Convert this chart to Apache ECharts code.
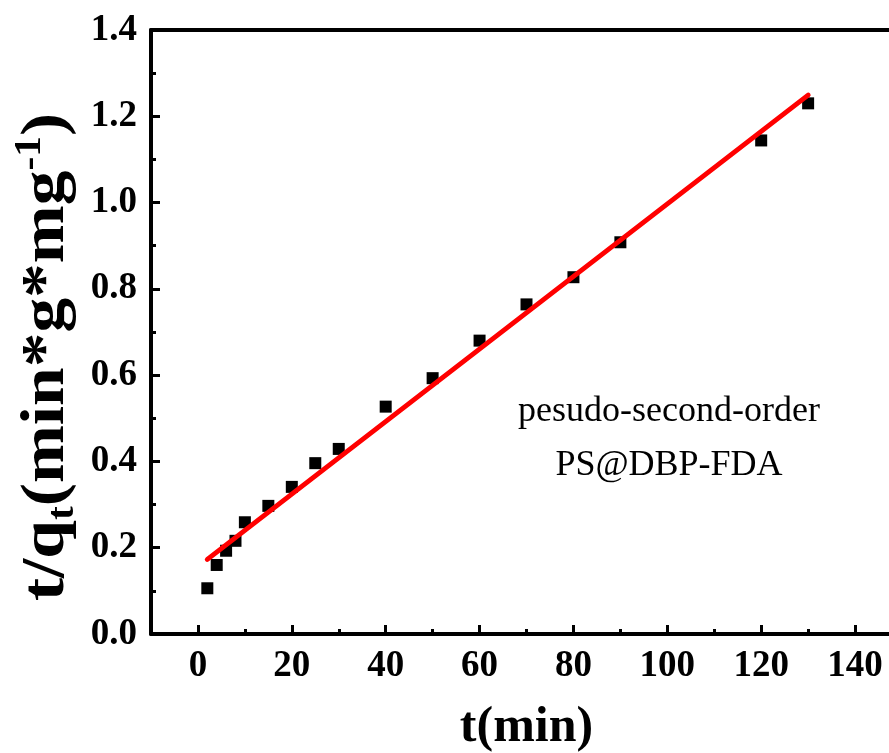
<!DOCTYPE html>
<html>
<head>
<meta charset="utf-8">
<script src="https://cdn.jsdelivr.net/npm/echarts@6/dist/echarts.min.js"></script>
<style>html,body{margin:0;padding:0;background:#fff}#c{width:889px;height:753px}</style>
</head>
<body>
<div id="c"></div>
<script>
const timeMin = [2, 4, 6, 8, 10, 15, 20, 25, 30, 40, 50, 60, 70, 80, 90, 120, 130];
const tOverQt = [0.106, 0.160, 0.193, 0.216, 0.259, 0.297, 0.341, 0.396, 0.429, 0.527, 0.593, 0.680, 0.764, 0.827, 0.908, 1.144, 1.230];
const fitT = [2, 130];
const fitY = [0.173, 1.249];
const xTicks = [0, 20, 40, 60, 80, 100, 120, 140];
const xMinorTicks = [-10, 10, 30, 50, 70, 90, 110, 130, 150];
const yTicks = [0.0, 0.2, 0.4, 0.6, 0.8, 1.0, 1.2, 1.4];
const annotation = ['pesudo-second-order', 'PS@DBP-FDA'];
const xTitle = 't(min)';
const yTitle = '{a|t/q}{s|t}{a|(min*g*mg}{p|-1}{a|)}';

const serif = 'Liberation Serif, Times New Roman, serif';
const chart = echarts.init(document.getElementById('c'));
const scatterData = timeMin.map((t, i) => [t, tOverQt[i]]);
const fitData = fitT.map((t, i) => [t, fitY[i]]);
const blackLine = { show: true, onZero: false, lineStyle: { color: '#000', width: 4 } };

chart.setOption({
  animation: false,
  backgroundColor: '#fff',
  grid: { left: 151, right: -13, top: 30, bottom: 119, containLabel: false, outerBoundsMode: 'none' },
  xAxis: [{
    type: 'value', min: -10, max: 150, interval: 10,
    axisLine: blackLine,
    axisTick: { show: true, inside: true, length: 9, customValues: xTicks, lineStyle: { color: '#000', width: 3 } },
    splitLine: { show: false },
    axisLabel: {
      customValues: xTicks,
      color: '#000', fontFamily: serif, fontWeight: 'bold', fontSize: 37, margin: 14
    },
    name: xTitle, nameLocation: 'middle', nameGap: 69,
    nameTextStyle: { color: '#000', fontFamily: serif, fontWeight: 'bold', fontSize: 50 }
  }, {
    type: 'value', position: 'bottom', min: -10, max: 150, interval: 10,
    axisLine: { show: false },
    axisTick: { show: true, inside: true, length: 5, customValues: xMinorTicks, lineStyle: { color: '#000', width: 3 } },
    axisLabel: { show: false }, splitLine: { show: false }
  }, {
    type: 'value', position: 'top', min: -10, max: 150,
    axisLine: blackLine,
    axisTick: { show: false }, axisLabel: { show: false }, splitLine: { show: false }
  }],
  yAxis: [{
    type: 'value', min: 0, max: 1.4, interval: 0.2,
    axisLine: blackLine,
    axisTick: { show: true, inside: true, length: 9, lineStyle: { color: '#000', width: 3 } },
    minorTick: { show: true, splitNumber: 2, length: 5, lineStyle: { color: '#000', width: 3 } },
    splitLine: { show: false }, minorSplitLine: { show: false },
    axisLabel: {
      color: '#000', fontFamily: serif, fontWeight: 'bold', fontSize: 37, margin: 14,
      formatter: v => v.toFixed(1)
    }
  }, {
    type: 'value', position: 'right', min: 0, max: 1.4,
    axisLine: blackLine,
    axisTick: { show: false }, axisLabel: { show: false }, splitLine: { show: false }
  }],
  graphic: [{
    type: 'text', x: 47, y: 357, rotation: Math.PI / 2, scaleX: 1.12, z: 10,
    style: {
      text: yTitle, align: 'center', verticalAlign: 'middle',
      rich: {
        a: { fontFamily: serif, fontWeight: 'bold', fontSize: 62, fill: '#000', lineHeight: 70 },
        s: { fontFamily: serif, fontWeight: 'bold', fontSize: 37, fill: '#000', lineHeight: 37, verticalAlign: 'bottom' },
        p: { fontFamily: serif, fontWeight: 'bold', fontSize: 37, fill: '#000', lineHeight: 37, verticalAlign: 'top' }
      }
    }
  }, {
    type: 'text', x: 669, y: 412, z: 10,
    style: { text: annotation[0], fontFamily: serif, fontSize: 36, fill: '#000', align: 'center', verticalAlign: 'middle' }
  }, {
    type: 'text', x: 669, y: 466, z: 10,
    style: { text: annotation[1], fontFamily: serif, fontSize: 36, fill: '#000', align: 'center', verticalAlign: 'middle' }
  }],
  series: [{
    type: 'scatter', data: scatterData, symbol: 'rect', symbolSize: 12,
    itemStyle: { color: '#000', opacity: 1 }, z: 2
  }, {
    type: 'line', data: fitData, symbol: 'none', z: 3,
    lineStyle: { color: '#ff0000', width: 5, cap: 'round' }
  }]
});
</script>
</body>
</html>
